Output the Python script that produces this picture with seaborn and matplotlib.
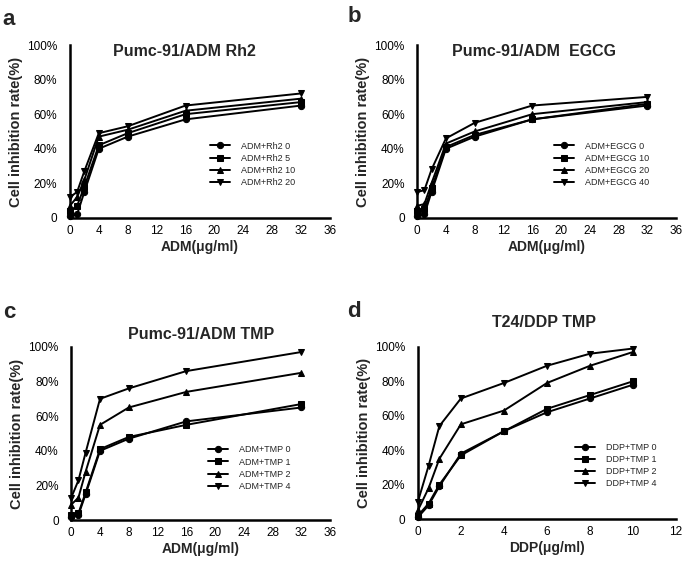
import pandas as pd
import matplotlib
matplotlib.use("Agg")
import matplotlib.pyplot as plt
import seaborn as sns

sns.set_theme(style="white")
plt.rcParams['font.family'] = ['Liberation Sans', 'DejaVu Sans']

# --- DATA ---
adm_dose = [0, 1, 2, 4, 8, 16, 32]
ddp_dose = [0, 0.5, 1, 2, 4, 6, 8, 10]

rh2_labels = ["ADM+Rh2 0", "ADM+Rh2 5", "ADM+Rh2 10", "ADM+Rh2 20"]
rh2_0 = [1, 2, 15, 40, 47, 57, 65]
rh2_5 = [4, 7, 18, 42, 49, 60, 67]
rh2_10 = [7, 12, 22, 47, 51, 62, 69]
rh2_20 = [12, 15, 27, 49, 53, 65, 72]

egcg_labels = ["ADM+EGCG 0", "ADM+EGCG 10", "ADM+EGCG 20", "ADM+EGCG 40"]
egcg_0 = [1, 2, 15, 40, 47, 57, 65]
egcg_10 = [4, 5, 17, 41, 48, 57, 66]
egcg_20 = [7, 8, 20, 43, 50, 60, 67]
egcg_40 = [15, 16, 28, 46, 55, 65, 70]

tmp_labels = ["ADM+TMP 0", "ADM+TMP 1", "ADM+TMP 2", "ADM+TMP 4"]
tmp_0 = [2, 3, 15, 40, 47, 57, 65]
tmp_1 = [3, 4, 16, 41, 48, 55, 67]
tmp_2 = [9, 13, 28, 55, 65, 74, 85]
tmp_4 = [13, 23, 39, 70, 76, 86, 97]

ddp_labels = ["DDP+TMP 0", "DDP+TMP 1", "DDP+TMP 2", "DDP+TMP 4"]
ddp_0 = [1, 8, 19, 38, 51, 62, 70, 78]
ddp_1 = [2, 9, 20, 37, 51, 64, 72, 80]
ddp_2 = [5, 18, 35, 55, 63, 79, 89, 97]
ddp_4 = [10, 31, 54, 70, 79, 89, 96, 99]

marker_list = ['o', 's', '^', 'v']


def to_long(dose, labels, series):
    rows = []
    for lab, vals in zip(labels, series):
        for d, v in zip(dose, vals):
            rows.append({"dose": d, "rate": v, "group": lab})
    return pd.DataFrame(rows)


panels = [
    dict(df=to_long(adm_dose, rh2_labels, [rh2_0, rh2_5, rh2_10, rh2_20]), labels=rh2_labels,
         pos=[0.102, 0.613, 0.380, 0.307], title="Pumc-91/ADM Rh2", tpos=(0.44, 0.96),
         xmax=36, xstep=4, xlabel="ADM(\u03bcg/ml)", letter="a", lpos=(0.004, 0.956), leg=(0.52, 0.31)),
    dict(df=to_long(adm_dose, egcg_labels, [egcg_0, egcg_10, egcg_20, egcg_40]), labels=egcg_labels,
         pos=[0.609, 0.613, 0.378, 0.307], title="Pumc-91/ADM  EGCG", tpos=(0.45, 0.96),
         xmax=36, xstep=4, xlabel="ADM(\u03bcg/ml)", letter="b", lpos=(0.507, 0.961), leg=(0.51, 0.31)),
    dict(df=to_long(adm_dose, tmp_labels, [tmp_0, tmp_1, tmp_2, tmp_4]), labels=tmp_labels,
         pos=[0.104, 0.076, 0.378, 0.308], title="Pumc-91/ADM TMP", tpos=(0.50, 1.07),
         xmax=36, xstep=4, xlabel="ADM(\u03bcg/ml)", letter="c", lpos=(0.004, 0.435), leg=(0.51, 0.30)),
    dict(df=to_long(ddp_dose, ddp_labels, [ddp_0, ddp_1, ddp_2, ddp_4]), labels=ddp_labels,
         pos=[0.610, 0.078, 0.377, 0.306], title="T24/DDP TMP", tpos=(0.49, 1.14),
         xmax=12, xstep=2, xlabel="DDP(\u03bcg/ml)", letter="d", lpos=(0.507, 0.437), leg=(0.59, 0.31)),
]

fig = plt.figure(figsize=(6.85, 5.63), dpi=100)

for p in panels:
    ax = fig.add_axes(p["pos"])
    sns.lineplot(data=p["df"], x="dose", y="rate", hue="group", style="group",
                 hue_order=p["labels"], style_order=p["labels"],
                 palette=["black"] * 4, markers=dict(zip(p["labels"], marker_list)),
                 dashes=False, markersize=4.5, markeredgecolor="black", linewidth=1.4,
                 ax=ax, clip_on=False)
    ax.set_xlim(0, p["xmax"])
    ax.set_ylim(0, 100)
    ax.set_xticks(range(0, p["xmax"] + 1, p["xstep"]))
    ax.set_yticks([0, 20, 40, 60, 80, 100])
    ax.set_yticklabels(["0", "20%", "40%", "60%", "80%", "100%"])
    ax.tick_params(axis="both", direction="out", length=4, width=1.5, labelsize=8.5,
                   colors="black")
    ax.tick_params(axis="x", pad=1)
    ax.tick_params(axis="y", pad=5)
    for s in ["top", "right"]:
        ax.spines[s].set_visible(False)
    for s in ["left", "bottom"]:
        ax.spines[s].set_linewidth(1.8)
        ax.spines[s].set_color("black")
    ax.set_xlabel(p["xlabel"], fontsize=10, fontweight="bold", labelpad=2)
    ax.set_ylabel("Cell inhibition rate(%)", fontsize=10.5, fontweight="bold", labelpad=3)
    ax.text(p["tpos"][0], p["tpos"][1], p["title"], transform=ax.transAxes,
            ha="center", va="center", fontsize=11.5, fontweight="bold")
    fig.text(p["lpos"][0], p["lpos"][1], p["letter"],
             fontsize=16, fontweight="bold", ha="left", va="baseline")
    ax.legend(loc="center left", bbox_to_anchor=p["leg"], frameon=False, fontsize=6.5,
              handlelength=2.2, labelspacing=0.35, handletextpad=1.3, borderpad=0)

fig.savefig("out.png", dpi=100)
